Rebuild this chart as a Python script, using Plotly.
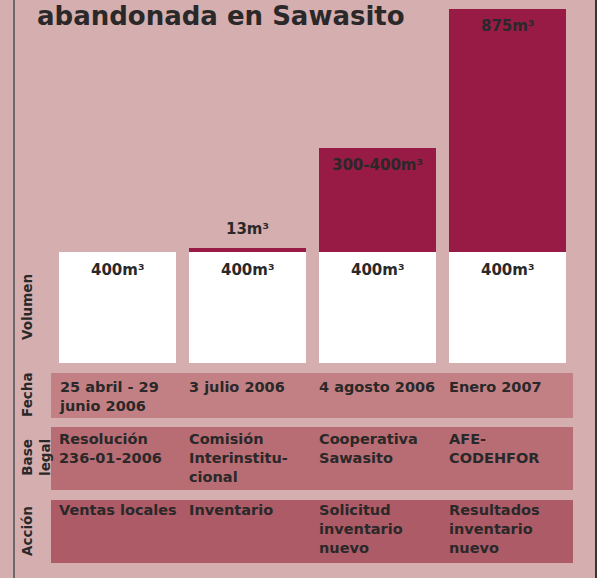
import plotly.graph_objects as go

# ---- data ----
columns = [0, 1, 2, 3]
base_volume = [400, 400, 400, 400]
base_labels = ["400m³", "400m³", "400m³", "400m³"]
extra_volume = [0, 13, 375, 875]
extra_labels = ["", "13m³", "300-400m³", "875m³"]
row_names = ["Fecha", "Base<br>legal", "Acción"]
fecha = ["25 abril - 29<br>junio 2006", "3 julio 2006", "4 agosto 2006", "Enero 2007"]
base_legal = ["Resolución<br>236-01-2006", "Comisión<br>Interinstitu-<br>cional",
              "Cooperativa<br>Sawasito", "AFE-<br>CODEHFOR"]
accion = ["Ventas locales", "Inventario", "Solicitud<br>inventario<br>nuevo",
          "Resultados<br>inventario<br>nuevo"]
title_text = "abandonada en Sawasito"

# ---- styling ----
W, H = 597, 578
BG = "#d5aeaf"
MAROON = "#981b45"
TXT = "#2a2829"
FONT = "DejaVu Sans"
band_colors = ["#c38084", "#b76d73", "#ad5b66"]
col_px = 130.0               # px per column
x0_ref = 117.5               # centre of first column (px)
px_per_unit = 0.2777         # px per m3
y0_ref = 363                 # bar bottom (px from top)


def px(x):
    return x / W


def py(y):
    return 1 - y / H


lab_font = dict(color=TXT, size=14.5, family=FONT, weight=700)
bar_font = dict(color=TXT, size=15, family=FONT, weight=700)

fig = go.Figure()
fig.add_trace(go.Bar(
    x=columns, y=base_volume, marker=dict(color="white", line=dict(width=0)),
    width=0.9, hoverinfo="skip"))
fig.add_trace(go.Bar(
    x=columns, y=extra_volume, marker=dict(color=MAROON, line=dict(width=0)),
    width=0.9, hoverinfo="skip"))

shapes = []
annotations = []

# bar labels
for c, b, lab in zip(columns, base_volume, base_labels):
    annotations.append(dict(text=lab, x=c, y=b, xref="x", yref="y", xanchor="center",
                            yanchor="top", yshift=-7, showarrow=False, font=bar_font))
for c, b, e, lab in zip(columns, base_volume, extra_volume, extra_labels):
    if not lab:
        continue
    if e < 50:
        annotations.append(dict(text=lab, x=c, y=b + e, xref="x", yref="y", xanchor="center",
                                yanchor="bottom", yshift=8, showarrow=False, font=bar_font))
    else:
        annotations.append(dict(text=lab, x=c, y=b + e, xref="x", yref="y", xanchor="center",
                                yanchor="top", yshift=-6, showarrow=False, font=bar_font))

bands = [(373, 418), (427, 490), (500, 563)]
label_y = [395, 458, 531]
text_pad = [4, 2, 0]
rows = [fecha, base_legal, accion]
for (t, b), col, name, ly, pad, texts in zip(bands, band_colors, row_names, label_y, text_pad, rows):
    shapes.append(dict(type="rect", xref="paper", yref="paper",
                       x0=px(51), x1=px(573), y0=py(b), y1=py(t),
                       fillcolor=col, line=dict(width=0), layer="below"))
    annotations.append(dict(text=name, xref="paper", yref="paper", x=px(17), y=py(ly),
                            textangle=-90, showarrow=False, xanchor="left", yanchor="middle",
                            font=dict(size=13.5, color=TXT, family=FONT, weight=700)))
    for c, tx in zip(columns, texts):
        annotations.append(dict(text=tx, xref="x", yref="paper", x=c - 0.45, y=py(t + pad),
                                xanchor="left", yanchor="top", align="left", showarrow=False,
                                xshift=-2, font=lab_font))

annotations.append(dict(text="Volumen", xref="paper", yref="paper", x=px(17), y=py(307),
                        textangle=-90, showarrow=False, xanchor="left", yanchor="middle",
                        font=dict(size=13.5, color=TXT, family=FONT, weight=700)))
annotations.append(dict(text=title_text, xref="paper", yref="paper", x=px(35), y=py(33),
                        xanchor="left", yanchor="bottom", showarrow=False,
                        font=dict(size=26, color=TXT, family=FONT, weight=700)))

shapes.append(dict(type="line", xref="paper", yref="paper", x0=px(14), x1=px(14), y0=0, y1=1,
                   line=dict(color="#6f6868", width=2)))
shapes.append(dict(type="line", xref="paper", yref="paper", x0=px(596), x1=px(596), y0=0, y1=1,
                   line=dict(color="#3a3435", width=2)))

fig.update_layout(
    width=W, height=H, margin=dict(l=0, r=0, t=0, b=0),
    paper_bgcolor=BG, plot_bgcolor=BG, barmode="stack", showlegend=False,
    xaxis=dict(range=[-x0_ref / col_px, (W - x0_ref) / col_px],
               visible=False, fixedrange=True),
    yaxis=dict(range=[-(H - y0_ref) / px_per_unit, y0_ref / px_per_unit],
               visible=False, fixedrange=True),
    shapes=shapes, annotations=annotations,
)
fig.write_html("out.html", config={"displayModeBar": False},
               post_script="document.body.style.margin='0';document.body.style.overflow='hidden';")
